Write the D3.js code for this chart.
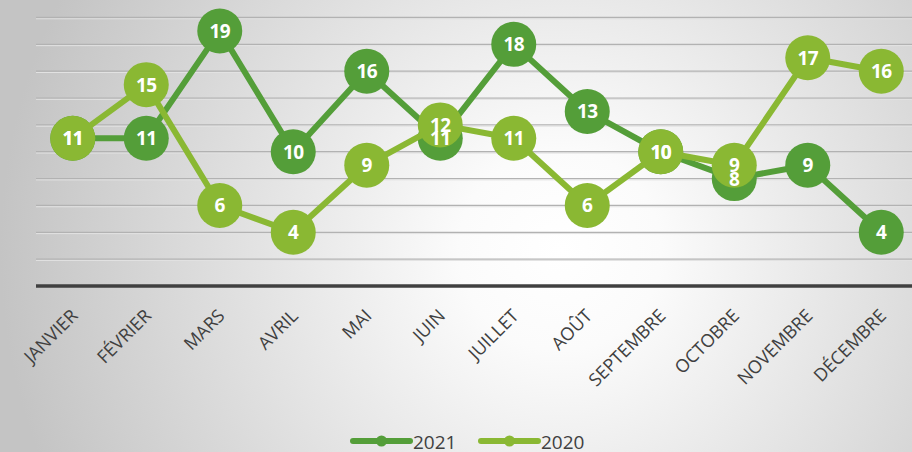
<!DOCTYPE html>
<html>
<head>
<meta charset="utf-8">
<script src="https://cdn.jsdelivr.net/npm/d3@7"></script>
<style>
  body { margin: 0; }
  svg { display: block; }
</style>
</head>
<body>
<div id="chart"></div>
<script>
var months = ["JANVIER", "FÉVRIER", "MARS", "AVRIL", "MAI", "JUIN", "JUILLET", "AOÛT", "SEPTEMBRE", "OCTOBRE", "NOVEMBRE", "DÉCEMBRE"]
var values2021 = [11, 11, 19, 10, 16, 11, 18, 13, 10, 8, 9, 4]
var values2020 = [11, 15, 6, 4, 9, 12, 11, 6, 10, 9, 17, 16]
var seriesNames = ["2021", "2020"]
var seriesColors = ["#549e39", "#8ab833"]
var gridValues = [2, 4, 6, 8, 10, 12, 14, 16, 18, 20]

var width = 912
var height = 452
var margin = {top: 17, right: -6, bottom: 167, left: 36}

var svg = d3.select("#chart")
    .append("svg")
        .attr("width", width)
        .attr("height", height)

// background: grey edges, white center
var defs = svg.append("defs")
var bg = defs.append("radialGradient")
    .attr("id", "bg-grad")
    .attr("gradientUnits", "userSpaceOnUse")
    .attr("cx", 560).attr("cy", 250).attr("r", 560)
bg.append("stop").attr("offset", "0%").attr("stop-color", "#ffffff")
bg.append("stop").attr("offset", "18%").attr("stop-color", "#fbfbfb")
bg.append("stop").attr("offset", "100%").attr("stop-color", "#c4c4c4")

svg.append("rect")
    .attr("width", width)
    .attr("height", height)
    .style("fill", "url(#bg-grad)")

var x = d3.scalePoint()
    .domain(months)
    .range([margin.left, width - margin.right])
    .padding(0.5)

var y = d3.scaleLinear()
    .domain([0, 20])
    .range([height - margin.bottom + 1, margin.top + 0.5])

// gridlines
var grid = svg.append("g")
grid.selectAll("line.g1")
    .data(gridValues)
    .join("line")
    .attr("class", "g1")
    .attr("x1", margin.left)
    .attr("x2", width)
    .attr("y1", d => y(d))
    .attr("y2", d => y(d))
    .style("stroke", "#b2b2b2")
    .style("stroke-width", 1.3)
grid.selectAll("line.g2")
    .data(gridValues)
    .join("line")
    .attr("class", "g2")
    .attr("x1", margin.left)
    .attr("x2", width)
    .attr("y1", d => y(d) + 1.3)
    .attr("y2", d => y(d) + 1.3)
    .style("stroke", "#e2e2e2")
    .style("stroke-width", 1)

// x axis
svg.append("line")
    .attr("x1", margin.left)
    .attr("x2", width)
    .attr("y1", y(0))
    .attr("y2", y(0))
    .style("stroke", "#404040")
    .style("stroke-width", 3.5)

svg.append("g")
    .selectAll("text")
    .data(months)
    .join("text")
    .attr("transform", d => `translate(${x(d) + 6}, ${y(0) + 31}) rotate(-45)`)
    .attr("text-anchor", "end")
    .style("font-family", "'Open Sans', sans-serif")
    .style("font-size", "18px")
    .style("fill", "#404040")
    .text(d => d)

var line = d3.line()
    .x((d, i) => x(months[i]))
    .y(d => y(d))

var allSeries = [values2021, values2020]
var r = 22.5

allSeries.forEach(function(vals, s) {
    var g = svg.append("g")
    g.append("path")
        .datum(vals)
        .attr("d", line)
        .style("fill", "none")
        .style("stroke", seriesColors[s])
        .style("stroke-width", 6)
        .style("stroke-linejoin", "round")
    g.selectAll("circle")
        .data(vals)
        .join("circle")
        .attr("cx", (d, i) => x(months[i]))
        .attr("cy", d => y(d))
        .attr("r", r)
        .style("fill", seriesColors[s])
})

// data labels on top of everything
allSeries.forEach(function(vals, s) {
    svg.append("g")
        .selectAll("text")
        .data(vals)
        .join("text")
        .attr("x", (d, i) => x(months[i]))
        .attr("y", d => y(d) + 7)
        .attr("text-anchor", "middle")
        .style("font-family", "'Open Sans', sans-serif")
        .style("font-weight", "bold")
        .style("font-size", "19px")
        .style("letter-spacing", "-0.5px")
        .style("fill", "#ffffff")
        .text(d => d)
})

// legend
var legend = svg.append("g")
var legX = [353, 481]
seriesNames.forEach(function(name, s) {
    var lg = legend.append("g").attr("transform", `translate(${legX[s]}, 441)`)
    lg.append("line")
        .attr("x1", 0).attr("x2", 57)
        .attr("y1", 0).attr("y2", 0)
        .style("stroke", seriesColors[s])
        .style("stroke-width", 6)
        .style("stroke-linecap", "round")
    lg.append("circle")
        .attr("cx", 28.5).attr("cy", 0).attr("r", 5.5)
        .style("fill", seriesColors[s])
    lg.append("text")
        .attr("x", 60).attr("y", 8)
        .style("font-family", "'Open Sans', sans-serif")
        .style("font-size", "19px")
        .style("fill", "#404040")
        .text(name)
})
</script>
</body>
</html>
